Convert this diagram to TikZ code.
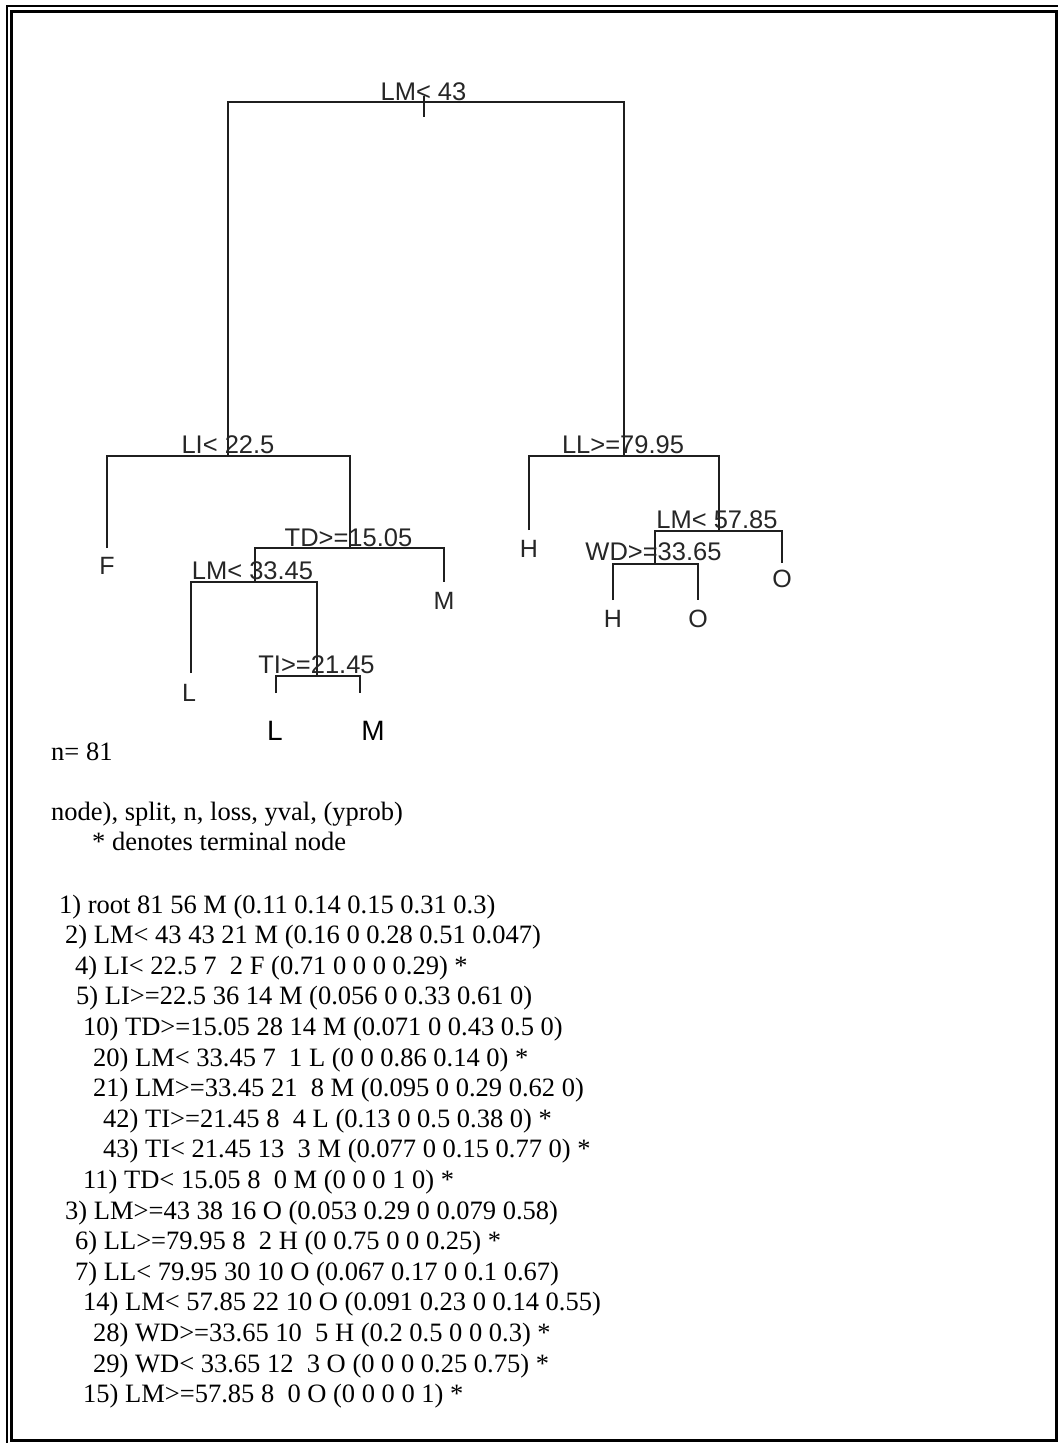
\documentclass[tikz,border=0pt]{standalone}
\usepackage{fontspec}
\setmainfont{Liberation Serif}
\newfontfamily\arialf{Liberation Sans}
\begin{document}
\begin{tikzpicture}[x=1pt,y=-1pt,
  treeline/.style={draw=black!88, line width=1.8pt},
  splitlab/.style={anchor=base, inner sep=0pt, text=black!85, font=\arialf\fontsize{25.5}{30}\selectfont},
  leaflab/.style={anchor=base, inner sep=0pt, text=black!85, font=\arialf\fontsize{25}{30}\selectfont},
  biglab/.style={anchor=base, inner sep=0pt, text=black, font=\arialf\fontsize{28}{32}\selectfont},
  outtext/.style={anchor=base west, inner sep=0pt, font=\fontsize{26.5}{30}\selectfont},
  frameouter/.style={draw=black, line width=2pt},
  frameinner/.style={draw=black, line width=3pt}]
\useasboundingbox (0,0) rectangle (1058,1443);
% frame
\draw[frameouter] (6.5,1443) -- (6.5,6) -- (1058,6);
\draw[frameinner] (11.5,11.5) rectangle (1056,1440.5);
% tree node positions
\coordinate (p1) at (424,102);
\coordinate (p1t) at (424,96);
\coordinate (p1b) at (424,117);
\coordinate (p2) at (228,456);
\coordinate (p3) at (624,456);
\coordinate (p4) at (107,548);
\coordinate (p5) at (350,548);
\coordinate (p10) at (255,582);
\coordinate (p11) at (444,582);
\coordinate (p20) at (191,673);
\coordinate (p21) at (317,676);
\coordinate (p42) at (276,693);
\coordinate (p43) at (360,693);
\coordinate (p6) at (529,530);
\coordinate (p7) at (719,531);
\coordinate (p14) at (655,564);
\coordinate (p15) at (782,563);
\coordinate (p28) at (613,600);
\coordinate (p29) at (698,600);
% branches
\draw[treeline] (p1t) -- (p1b);
\draw[treeline] (p2) -- (p2 |- p1) -- (p3 |- p1) -- (p3);
\draw[treeline] (p4) -- (p4 |- p2) -- (p5 |- p2) -- (p5);
\draw[treeline] (p10) -- (p10 |- p5) -- (p11 |- p5) -- (p11);
\draw[treeline] (p20) -- (p20 |- p10) -- (p21 |- p10) -- (p21);
\draw[treeline] (p42) -- (p42 |- p21) -- (p43 |- p21) -- (p43);
\draw[treeline] (p6) -- (p6 |- p3) -- (p7 |- p3) -- (p7);
\draw[treeline] (p14) -- (p14 |- p7) -- (p15 |- p7) -- (p15);
\draw[treeline] (p28) -- (p28 |- p14) -- (p29 |- p14) -- (p29);
% split labels
\node[splitlab] (s1) at (423.5,100) {LM< 43};
\node[splitlab] (s2) at (228,453) {LI< 22.5};
\node[splitlab] (s5) at (348.5,546) {TD>=15.05};
\node[splitlab] (s10) at (252.5,579) {LM< 33.45};
\node[splitlab] (s21) at (316.5,673) {TI>=21.45};
\node[splitlab] (s3) at (623,453) {LL>=79.95};
\node[splitlab] (s7) at (717,528) {LM< 57.85};
\node[splitlab] (s14) at (653.5,560) {WD>=33.65};
% leaf labels
\node[leaflab] (l4) at (107,574) {F};
\node[leaflab] (l11) at (444,609) {M};
\node[leaflab] (l20) at (189,701) {L};
\node[leaflab] (l6) at (529,557) {H};
\node[leaflab] (l15) at (782,587) {O};
\node[leaflab] (l28) at (613,627) {H};
\node[leaflab] (l29) at (698,627) {O};
\node[biglab] (l42) at (275,740) {L};
\node[biglab] (l43) at (373,740) {M};
% printed output
\node[outtext] (t0) at (51,760) {n= 81};
\node[outtext] (t1) at (51,820) {node), split, n, loss, yval, (yprob)};
\node[outtext] (t2) at (92,850) {* denotes terminal node};
\node[outtext] (r1) at (59,913) {1) root 81 56 M (0.11 0.14 0.15 0.31 0.3)};
\node[outtext] (r2) at (65,943.6) {2) LM< 43 43 21 M (0.16 0 0.28 0.51 0.047)};
\node[outtext] (r4) at (75,974.2) {4) LI< 22.5 7~ 2 F (0.71 0 0 0 0.29) *};
\node[outtext] (r5) at (76,1004.8) {5) LI>=22.5 36 14 M (0.056 0 0.33 0.61 0)};
\node[outtext] (r10) at (83,1035.4) {10) TD>=15.05 28 14 M (0.071 0 0.43 0.5 0)};
\node[outtext] (r20) at (93,1066) {20) LM< 33.45 7~ 1 L (0 0 0.86 0.14 0) *};
\node[outtext] (r21) at (93,1096.6) {21) LM>=33.45 21~ 8 M (0.095 0 0.29 0.62 0)};
\node[outtext] (r42) at (103,1127.2) {42) TI>=21.45 8~ 4 L (0.13 0 0.5 0.38 0) *};
\node[outtext] (r43) at (103,1157.8) {43) TI< 21.45 13~ 3 M (0.077 0 0.15 0.77 0) *};
\node[outtext] (r11) at (83,1188.4) {11) TD< 15.05 8~ 0 M (0 0 0 1 0) *};
\node[outtext] (r3) at (65,1219) {3) LM>=43 38 16 O (0.053 0.29 0 0.079 0.58)};
\node[outtext] (r6) at (75,1249.6) {6) LL>=79.95 8~ 2 H (0 0.75 0 0 0.25) *};
\node[outtext] (r7) at (75,1280.2) {7) LL< 79.95 30 10 O (0.067 0.17 0 0.1 0.67)};
\node[outtext] (r14) at (83,1310.8) {14) LM< 57.85 22 10 O (0.091 0.23 0 0.14 0.55)};
\node[outtext] (r28) at (93,1341.4) {28) WD>=33.65 10~ 5 H (0.2 0.5 0 0 0.3) *};
\node[outtext] (r29) at (93,1372) {29) WD< 33.65 12~ 3 O (0 0 0 0.25 0.75) *};
\node[outtext] (r15) at (83,1402.6) {15) LM>=57.85 8~ 0 O (0 0 0 0 1) *};
\end{tikzpicture}
\end{document}
